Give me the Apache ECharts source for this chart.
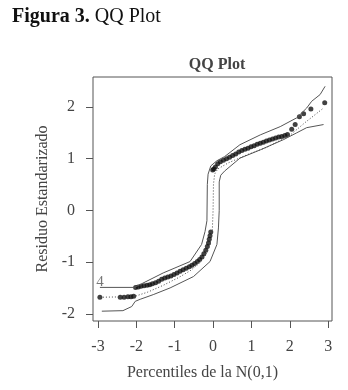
<!DOCTYPE html>
<html>
<head>
<meta charset="utf-8">
<script src="https://cdn.jsdelivr.net/npm/echarts@6/dist/echarts.min.js"></script>
<style>
  html, body { margin: 0; padding: 0; background: #fff; }
  #chart { width: 348px; height: 390px; }
</style>
</head>
<body>
<div id="chart"></div>
<script>
// tick labels
const xTicks = [-3, -2, -1, 0, 1, 2, 3];
const yTicks = [-2, -1, 0, 1, 2];

// observed residuals vs N(0,1) percentiles
const ptsX = [-2.95, -2.42, -2.32, -2.22, -2.14, -2.07,
  -2.02, -1.95, -1.88, -1.8, -1.72, -1.65, -1.58, -1.5, -1.42, -1.34, -1.26, -1.18, -1.1, -1.02,
  -0.94, -0.86, -0.78, -0.7, -0.62, -0.55, -0.48, -0.41, -0.35, -0.29, -0.24, -0.19, -0.15, -0.12,
  -0.1, -0.08, -0.06,
  -0.01, 0.02, 0.06, 0.12, 0.19, 0.27, 0.35, 0.43, 0.51, 0.59, 0.67, 0.75, 0.83, 0.91, 0.99,
  1.07, 1.15, 1.23, 1.31, 1.39, 1.47, 1.55, 1.63, 1.71, 1.79, 1.87, 1.94, 2.05, 2.14, 2.25,
  2.36, 2.55, 2.91];
const ptsY = [-1.68, -1.68, -1.68, -1.67, -1.67, -1.66,
  -1.49, -1.48, -1.47, -1.46, -1.45, -1.44, -1.42, -1.4, -1.37, -1.33, -1.31, -1.29, -1.27, -1.24,
  -1.21, -1.18, -1.15, -1.12, -1.09, -1.06, -1.03, -0.99, -0.95, -0.9, -0.84, -0.77, -0.7, -0.63,
  -0.56, -0.49, -0.42,
  0.78, 0.8, 0.84, 0.9, 0.94, 0.97, 1.0, 1.03, 1.06, 1.09, 1.13, 1.16, 1.18, 1.2, 1.23,
  1.25, 1.28, 1.3, 1.32, 1.34, 1.36, 1.38, 1.4, 1.42, 1.43, 1.45, 1.47, 1.57, 1.66, 1.81,
  1.87, 1.96, 2.08];

// dotted reference line
const refX = [-2.95, -2.07, -1.7, -1.3, -0.9, -0.6, -0.35, -0.18, -0.08, -0.02, 0.0, 0.01, 0.04,
  0.12, 0.4, 0.9, 1.4, 2.0, 2.4, 2.88];
const refY = [-1.68, -1.67, -1.58, -1.45, -1.3, -1.17, -1.02, -0.85, -0.65, -0.4, 0.0, 0.5, 0.7,
  0.8, 0.92, 1.08, 1.22, 1.45, 1.7, 1.98];

// upper envelope
const upX = [-2.95, -2.05, -1.3, -0.6, -0.3, -0.21, -0.16, -0.15, -0.13, -0.06, 0.1, 0.3, 0.7,
  1.23, 1.75, 2.18, 2.44, 2.57, 2.79, 2.92];
const upY = [-1.49, -1.49, -1.21, -0.99, -0.66, -0.41, -0.2, 0.5, 0.7, 0.86, 0.96, 1.04, 1.27,
  1.46, 1.62, 1.79, 1.98, 2.11, 2.24, 2.4];

// lower envelope
const loX = [-2.9, -2.35, -2.12, -2.03, -1.9, -1.56, -1.12, -0.51, -0.08, 0.1, 0.14, 0.16, 0.16,
  0.2, 0.3, 0.7, 1.23, 1.84, 2.18, 2.44, 2.88];
const loY = [-1.95, -1.94, -1.86, -1.76, -1.72, -1.63, -1.5, -1.28, -0.99, -0.66, -0.34, 0.0, 0.55,
  0.68, 0.76, 1.01, 1.17, 1.37, 1.5, 1.6, 1.66];

const zip = (a, b) => a.map((v, i) => [v, b[i]]);
const serif = "Liberation Serif";

const scatterData = zip(ptsX, ptsY).map((p, i) => i === 0 ? {
  value: p,
  label: { show: true, position: 'top', distance: 5, formatter: '4', fontFamily: serif, fontSize: 15, color: '#555' }
} : p);

const chart = echarts.init(document.getElementById('chart'));
chart.setOption({
  animation: false,
  title: [
    {
      text: '{b|Figura 3.} {n|QQ Plot}',
      left: 7, top: 2,
      textStyle: {
        rich: {
          b: { fontFamily: serif, fontSize: 20, fontWeight: 'bold', color: '#111' },
          n: { fontFamily: serif, fontSize: 20, fontWeight: 'normal', color: '#111' }
        }
      }
    },
    {
      text: 'QQ Plot',
      left: 212, top: 52, textAlign: 'center',
      textStyle: { fontFamily: serif, fontSize: 16, fontWeight: 'bold', color: '#444' }
    }
  ],
  grid: { left: 93, right: 16, top: 77, bottom: 69, show: true, borderColor: '#555', borderWidth: 1 },
  xAxis: {
    type: 'value', min: -3.13, max: 3.1,
    name: 'Percentiles de la N(0,1)', nameLocation: 'middle', nameGap: 44,
    nameTextStyle: { fontFamily: serif, fontSize: 16, color: '#444', padding: [0, 20, 0, 0] },
    axisLine: { show: false, onZero: false },
    splitLine: { show: false },
    axisTick: { show: true, customValues: xTicks, length: 7, lineStyle: { color: '#555' } },
    axisLabel: { customValues: xTicks, margin: 18, fontFamily: serif, fontSize: 16, color: '#444' }
  },
  yAxis: {
    type: 'value', min: -2.14, max: 2.58,
    name: 'Residuo Estandarizado', nameLocation: 'middle', nameGap: 40,
    nameTextStyle: { fontFamily: serif, fontSize: 16, color: '#444' },
    axisLine: { show: false, onZero: false },
    splitLine: { show: false },
    axisTick: { show: true, customValues: yTicks, length: 7, lineStyle: { color: '#555' } },
    axisLabel: { customValues: yTicks, margin: 18, fontFamily: serif, fontSize: 16, color: '#444' }
  },
  series: [
    {
      type: 'line', data: zip(upX, upY), showSymbol: false, silent: true,
      lineStyle: { color: '#555', width: 1 }
    },
    {
      type: 'line', data: zip(loX, loY), showSymbol: false, silent: true,
      lineStyle: { color: '#555', width: 1 }
    },
    {
      type: 'line', data: zip(refX, refY), showSymbol: false, silent: true,
      lineStyle: { color: '#444', width: 1, type: [1, 2] }
    },
    {
      type: 'scatter', data: scatterData, symbol: 'circle', symbolSize: 5,
      itemStyle: { color: '#111' }
    }
  ]
});
</script>
</body>
</html>
